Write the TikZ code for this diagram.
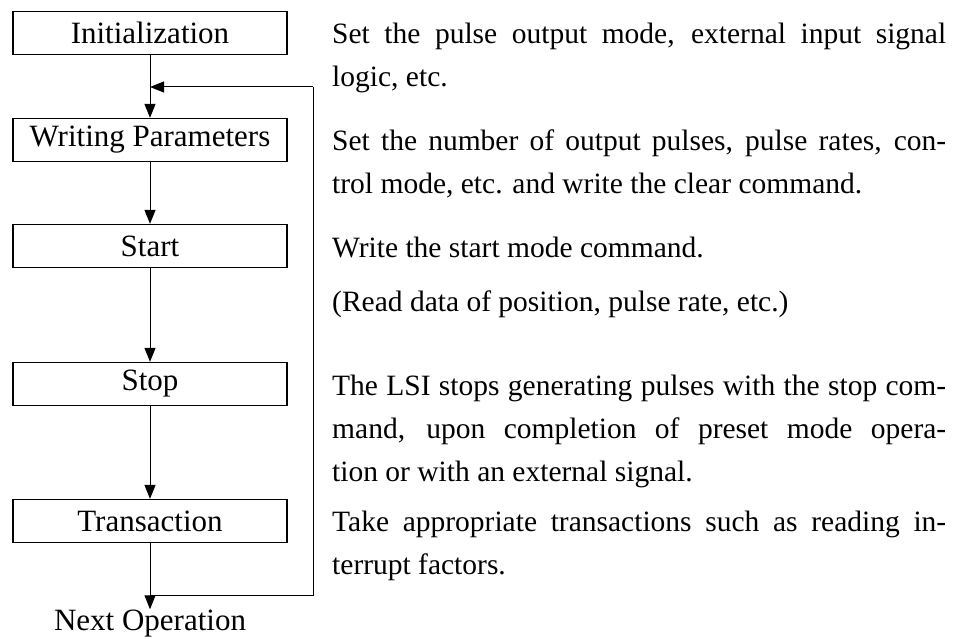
\documentclass[tikz,border=0pt]{standalone}
\usepackage{fontspec}
\setmainfont{Liberation Serif}
\usetikzlibrary{arrows.meta}
\tikzset{
  stepbox/.style={draw,line width=1.3pt,minimum width=274pt,minimum height=43pt,inner sep=0pt,font=\fontsize{31}{36}\selectfont},
  note/.style={anchor=base west,inner sep=0pt,text width=614pt,align=justify,font=\fontsize{29.5}{43}\selectfont},
  flow/.style={line width=1pt,-{Triangle[length=14pt,width=11pt]}}
}
\begin{document}
\begin{tikzpicture}[x=1pt,y=-1pt]
\useasboundingbox (0,0) rectangle (953,639);
% steps
\node[stepbox] (init) at (150,33) {Initialization};
\node[stepbox] (param) at (150,140) {Writing Parameters};
\node[stepbox] (start) at (150,246) {Start};
\node[stepbox] (stop) at (150,384) {Stop};
\node[stepbox] (trans) at (150,521) {Transaction};
\node[inner sep=0pt,anchor=base,font=\fontsize{31}{36}\selectfont] (next) at (150,630) {Next Operation};
\coordinate (join) at (150,87);
\coordinate (back) at (313,87);
\coordinate (fork) at (150,595);
\coordinate (corner) at (313,595);
% connectors
\draw[flow] (init) -- (param);
\draw[flow] (param) -- (start);
\draw[flow] (start) -- (stop);
\draw[flow] (stop) -- (trans);
\draw[line width=1pt] (trans) -- (fork) -- (corner) -- (back);
\draw[flow] (back) -- (join);
\draw[flow] (fork) -- (next);
% notes
\node[note] (n1) at (332,44) {Set the pulse output mode, external input signal\linebreak logic, etc.};
\node[note] (n2) at (332,151) {Set the number of output pulses, pulse rates, con-\linebreak trol mode, etc. and write the clear command.};
\node[note] (n3) at (332,257) {Write the start mode command.};
\node[note] (n4) at (332,311) {(Read data of position, pulse rate, etc.)};
\node[note] (n5) at (332,395) {The LSI stops generating pulses with the stop com-\linebreak mand, upon completion of preset mode opera-\linebreak tion or with an external signal.};
\node[note] (n6) at (332,531) {Take appropriate transactions such as reading in-\linebreak terrupt factors.};
\end{tikzpicture}
\end{document}
